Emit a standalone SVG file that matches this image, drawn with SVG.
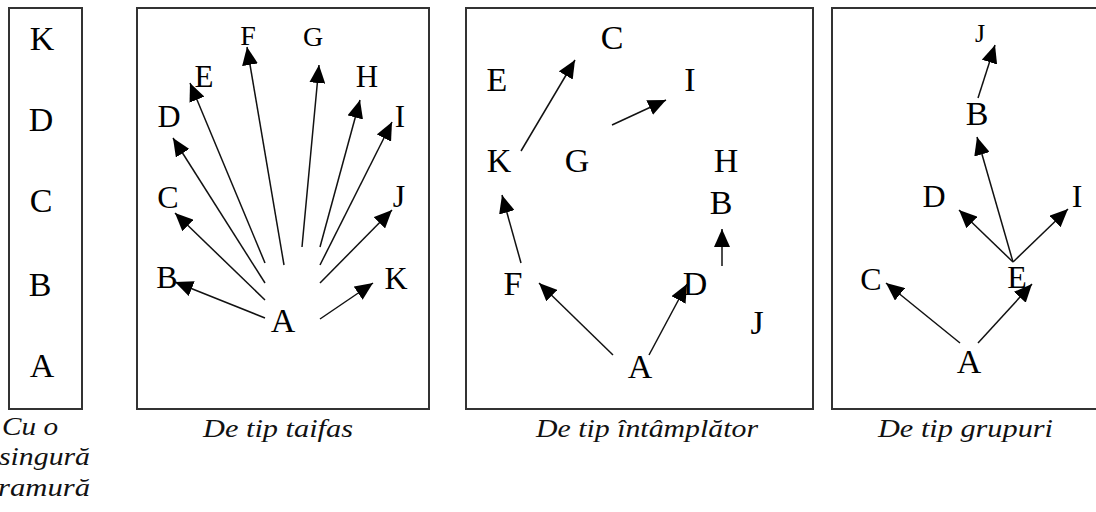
<svg xmlns="http://www.w3.org/2000/svg" width="1096" height="512" viewBox="0 0 1096 512">
  <defs>
    <marker id="arrow" markerWidth="18" markerHeight="16" refX="18" refY="8" orient="auto" markerUnits="userSpaceOnUse">
      <path d="M0,0 L18,8 L0,16 Z" fill="#000"/>
    </marker>
    <style>
      .frame { fill: none; stroke: #333; stroke-width: 2; }
      .lbl { font-family: "Liberation Serif", "Times New Roman", serif; font-size: 32px; fill: #000; text-anchor: middle; }
      .sm { font-size: 31px; }
      .lg { font-size: 34px; }
      .cap { font-family: "Liberation Serif", "Times New Roman", serif; font-style: italic; font-size: 25px; fill: #111; }
      .edge { stroke: #111; stroke-width: 1.5; fill: none; marker-end: url(#arrow); }
    </style>
  </defs>
  <rect width="1096" height="512" fill="#fff"/>

  <!-- Panel 1: single branch -->
  <g id="panel-chain">
    <rect class="frame" x="9" y="8" width="73" height="401"/>
    <g id="p1-K"><text class="lbl lg" x="42" y="50">K</text></g>
    <g id="p1-D"><text class="lbl lg" x="41" y="131">D</text></g>
    <g id="p1-C"><text class="lbl lg" x="41" y="212">C</text></g>
    <g id="p1-B"><text class="lbl lg" x="40" y="296">B</text></g>
    <g id="p1-A"><text class="lbl lg" x="42" y="377">A</text></g>
    <text class="cap" x="2" y="435" textLength="56" lengthAdjust="spacingAndGlyphs">Cu o</text>
    <text class="cap" x="-1" y="465" textLength="91" lengthAdjust="spacingAndGlyphs">singură</text>
    <text class="cap" x="-2" y="496" textLength="92" lengthAdjust="spacingAndGlyphs">ramură</text>
  </g>

  <!-- Panel 2: chatter (star) -->
  <g id="panel-star">
    <rect class="frame" x="137" y="8" width="292" height="401"/>
    <g id="p2-F"><text class="lbl" style="font-size:28px" x="248" y="45">F</text></g>
    <g id="p2-G"><text class="lbl" style="font-size:28px" x="313" y="46">G</text></g>
    <g id="p2-E"><text class="lbl sm" x="204" y="87">E</text></g>
    <g id="p2-H"><text class="lbl sm" x="367" y="87">H</text></g>
    <g id="p2-D"><text class="lbl" x="169" y="127">D</text></g>
    <g id="p2-I"><text class="lbl sm" x="400" y="127">I</text></g>
    <g id="p2-C"><text class="lbl" x="168" y="208">C</text></g>
    <g id="p2-J"><text class="lbl" x="399" y="207">J</text></g>
    <g id="p2-B"><text class="lbl" x="167" y="288">B</text></g>
    <g id="p2-K"><text class="lbl" x="396" y="289">K</text></g>
    <g id="p2-A"><text class="lbl lg" x="283" y="332">A</text></g>
    <text class="cap" x="203" y="437" textLength="150" lengthAdjust="spacingAndGlyphs">De tip taifas</text>
  </g>

  <!-- Panel 3: random -->
  <g id="panel-random">
    <rect class="frame" x="466" y="8" width="347" height="401"/>
    <g id="p3-C"><text class="lbl lg" x="612" y="49">C</text></g>
    <g id="p3-E"><text class="lbl lg" x="497" y="91">E</text></g>
    <g id="p3-I"><text class="lbl lg" x="690" y="91">I</text></g>
    <g id="p3-K"><text class="lbl lg" x="499" y="172">K</text></g>
    <g id="p3-G"><text class="lbl lg" x="577" y="172">G</text></g>
    <g id="p3-H"><text class="lbl lg" x="726" y="172">H</text></g>
    <g id="p3-B"><text class="lbl lg" x="721" y="214">B</text></g>
    <g id="p3-F"><text class="lbl lg" x="513" y="295">F</text></g>
    <g id="p3-D"><text class="lbl lg" x="695" y="295">D</text></g>
    <g id="p3-J"><text class="lbl lg" x="757" y="334">J</text></g>
    <g id="p3-A"><text class="lbl lg" x="640" y="378">A</text></g>
    <text class="cap" x="536" y="437" textLength="222" lengthAdjust="spacingAndGlyphs">De tip întâmplător</text>
  </g>

  <!-- Panel 4: groups (tree) -->
  <g id="panel-groups">
    <rect class="frame" x="832" y="8" width="280" height="401"/>
    <g id="p4-J"><text class="lbl" style="font-size:26px" x="980" y="42">J</text></g>
    <g id="p4-B"><text class="lbl lg" x="977" y="125">B</text></g>
    <g id="p4-D"><text class="lbl" x="934" y="207">D</text></g>
    <g id="p4-I"><text class="lbl" x="1077" y="207">I</text></g>
    <g id="p4-C"><text class="lbl" x="871" y="290">C</text></g>
    <g id="p4-E"><text class="lbl" x="1017" y="288">E</text></g>
    <g id="p4-A"><text class="lbl lg" x="969" y="373">A</text></g>
    <text class="cap" x="878" y="437" textLength="175" lengthAdjust="spacingAndGlyphs">De tip grupuri</text>
  </g>

  <!-- Connectors -->
  <g id="connectors">
    <!-- star: A to every other member -->
    <line class="edge" x1="265" y1="318" x2="175" y2="282"/>
    <line class="edge" x1="265" y1="300" x2="175" y2="213"/>
    <line class="edge" x1="265" y1="283" x2="173" y2="138"/>
    <line class="edge" x1="265" y1="263" x2="190" y2="83"/>
    <line class="edge" x1="284" y1="265" x2="247" y2="47"/>
    <line class="edge" x1="302" y1="247" x2="319" y2="65"/>
    <line class="edge" x1="320" y1="247" x2="360" y2="100"/>
    <line class="edge" x1="320" y1="265" x2="392" y2="122"/>
    <line class="edge" x1="320" y1="283" x2="392" y2="210"/>
    <line class="edge" x1="320" y1="319" x2="373" y2="283"/>
    <!-- random links -->
    <line class="edge" x1="521" y1="151" x2="575" y2="60"/>
    <line class="edge" x1="612" y1="125" x2="666" y2="100"/>
    <line class="edge" x1="521" y1="263" x2="502" y2="195"/>
    <line class="edge" x1="613" y1="355" x2="539" y2="283"/>
    <line class="edge" x1="649" y1="355" x2="687" y2="284"/>
    <line class="edge" x1="722" y1="266" x2="722" y2="229"/>
    <!-- groups tree -->
    <line class="edge" x1="978" y1="98" x2="995" y2="45"/>
    <line class="edge" x1="1013" y1="262" x2="977" y2="137"/>
    <line class="edge" x1="1013" y1="262" x2="959" y2="210"/>
    <line class="edge" x1="1013" y1="262" x2="1068" y2="209"/>
    <line class="edge" x1="960" y1="343" x2="886" y2="283"/>
    <line class="edge" x1="978" y1="343" x2="1032" y2="284"/>
  </g>
</svg>
